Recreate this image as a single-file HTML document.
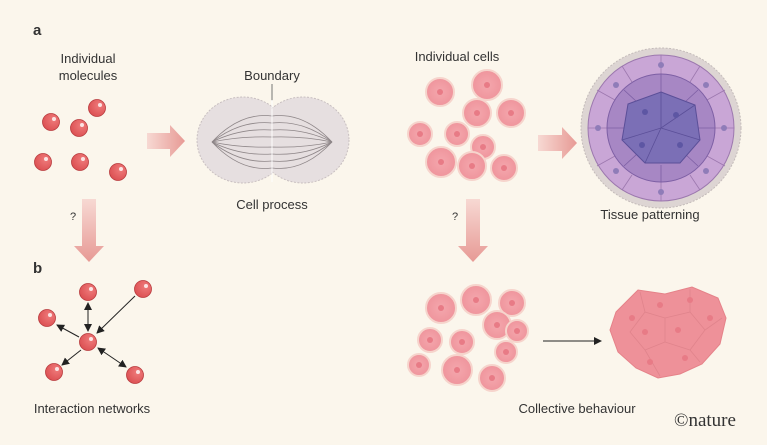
<!DOCTYPE html>
<html><head><meta charset="utf-8"><style>
html,body{margin:0;padding:0;background:#fbf6ec;}
svg{display:block;}
text{font-family:"Liberation Sans",sans-serif;fill:#333;}
</style></head><body>
<svg width="767" height="445" viewBox="0 0 767 445" xmlns="http://www.w3.org/2000/svg">
<defs>
<radialGradient id="mol" cx="0.65" cy="0.35" r="0.8"><stop offset="0" stop-color="#ef7b7b"/><stop offset="1" stop-color="#d94a4d"/></radialGradient>
<radialGradient id="cell" cx="0.5" cy="0.5" r="0.6"><stop offset="0" stop-color="#f4a7ad"/><stop offset="1" stop-color="#ee9199"/></radialGradient>
<linearGradient id="arH" x1="0" x2="1"><stop offset="0" stop-color="#f7d9d3"/><stop offset="1" stop-color="#e79a95"/></linearGradient>
<linearGradient id="arV" x1="0" x2="0" y1="0" y2="1"><stop offset="0" stop-color="#f7d9d3"/><stop offset="1" stop-color="#e79a95"/></linearGradient>
<marker id="ah" markerWidth="8" markerHeight="8" refX="7" refY="4" orient="auto" markerUnits="userSpaceOnUse"><path d="M0,0 L8,4 L0,8 Z" fill="#222"/></marker>
<marker id="ahs" markerWidth="8" markerHeight="8" refX="1" refY="4" orient="auto" markerUnits="userSpaceOnUse"><path d="M8,0 L0,4 L8,8 Z" fill="#222"/></marker>
</defs>
<text x="33" y="35" font-weight="bold" font-size="15" fill="#222">a</text>
<text x="88" y="63" font-size="13" text-anchor="middle">Individual</text>
<text x="88" y="80" font-size="13" text-anchor="middle">molecules</text>
<g fill="url(#mol)" stroke="#b83a3d" stroke-width="0.8">
<circle cx="97" cy="108" r="8.5"/><circle cx="51" cy="122" r="8.5"/><circle cx="79" cy="128" r="8.5"/>
<circle cx="43" cy="162" r="8.5"/><circle cx="80" cy="162" r="8.5"/><circle cx="118" cy="172" r="8.5"/>
</g>
<g fill="#fff" opacity="0.8"><circle cx="100" cy="105" r="2"/><circle cx="54" cy="119" r="2"/><circle cx="82" cy="125" r="2"/><circle cx="46" cy="159" r="2"/><circle cx="83" cy="159" r="2"/><circle cx="121" cy="169" r="2"/></g>
<path d="M147,133 L170,133 L170,125 L185,141 L170,157 L170,149 L147,149 Z" fill="url(#arH)"/>
<text x="272" y="80" font-size="13" text-anchor="middle">Boundary</text>
<line x1="272" y1="84" x2="272" y2="101" stroke="#555" stroke-width="0.8"/>
<g fill="#e6dfe0" stroke="#c8bfc0" stroke-dasharray="2,1.5">
<ellipse cx="243" cy="140" rx="46" ry="43"/><ellipse cx="303" cy="140" rx="46" ry="43"/>
</g>
<ellipse cx="243" cy="140" rx="44" ry="41" fill="#e6dfe0"/><ellipse cx="303" cy="140" rx="44" ry="41" fill="#e6dfe0"/>
<g fill="none" stroke="#8e8688" stroke-width="0.8">
<path d="M212,142 Q240,112 272,116 Q304,112 332,142"/><path d="M212,142 Q240,120 272,123 Q304,120 332,142"/>
<path d="M212,142 Q240,128 272,130 Q304,128 332,142"/><path d="M212,142 Q240,136 272,137 Q304,136 332,142"/>
<path d="M212,142 Q240,148 272,147 Q304,148 332,142"/><path d="M212,142 Q240,156 272,154 Q304,156 332,142"/>
<path d="M212,142 Q240,164 272,161 Q304,164 332,142"/><path d="M212,142 Q240,172 272,168 Q304,172 332,142"/>
</g>
<line x1="272" y1="100" x2="272" y2="182" stroke="#fff" stroke-width="1.2" opacity="0.8"/>
<text x="272" y="209" font-size="13" text-anchor="middle">Cell process</text>
<path d="M82,199 L96,199 L96,246 L104,246 L89,262 L74,246 L82,246 Z" fill="url(#arV)"/>
<text x="70" y="220" font-size="11">?</text>
<text x="33" y="273" font-weight="bold" font-size="15" fill="#222">b</text>
<g stroke="#222" stroke-width="1" fill="none">
<line x1="88" y1="303" x2="88" y2="331" marker-start="url(#ahs)" marker-end="url(#ah)"/>
<line x1="135" y1="296" x2="97" y2="333" marker-end="url(#ah)"/>
<line x1="79" y1="337" x2="57" y2="325" marker-end="url(#ah)"/>
<line x1="81" y1="350" x2="62" y2="365" marker-end="url(#ah)"/>
<line x1="98" y1="348" x2="126" y2="367" marker-start="url(#ahs)" marker-end="url(#ah)"/>
</g>
<g fill="url(#mol)" stroke="#b83a3d" stroke-width="0.8">
<circle cx="88" cy="292" r="8.5"/><circle cx="143" cy="289" r="8.5"/><circle cx="47" cy="318" r="8.5"/>
<circle cx="88" cy="342" r="8.5"/><circle cx="54" cy="372" r="8.5"/><circle cx="135" cy="375" r="8.5"/>
</g>
<g fill="#fff" opacity="0.8"><circle cx="91" cy="289" r="2"/><circle cx="146" cy="286" r="2"/><circle cx="50" cy="315" r="2"/><circle cx="91" cy="339" r="2"/><circle cx="57" cy="369" r="2"/><circle cx="138" cy="372" r="2"/></g>
<text x="92" y="413" font-size="13" text-anchor="middle">Interaction networks</text>
<text x="457" y="61" font-size="13" text-anchor="middle">Individual cells</text>
<g fill="url(#cell)" stroke="#f6d4cc" stroke-width="2">
<circle cx="440" cy="92" r="14"/><circle cx="487" cy="85" r="15"/><circle cx="477" cy="113" r="14"/><circle cx="511" cy="113" r="14"/>
<circle cx="420" cy="134" r="12"/><circle cx="457" cy="134" r="12"/><circle cx="483" cy="147" r="12"/>
<circle cx="441" cy="162" r="15"/><circle cx="472" cy="166" r="14"/><circle cx="504" cy="168" r="13"/>
</g>
<g fill="#e87b86"><circle cx="440" cy="92" r="3"/><circle cx="487" cy="85" r="3"/><circle cx="477" cy="113" r="3"/><circle cx="511" cy="113" r="3"/><circle cx="420" cy="134" r="3"/><circle cx="457" cy="134" r="3"/><circle cx="483" cy="147" r="3"/><circle cx="441" cy="162" r="3"/><circle cx="472" cy="166" r="3"/><circle cx="504" cy="168" r="3"/></g>
<path d="M538,135 L562,135 L562,127 L577,143 L562,159 L562,151 L538,151 Z" fill="url(#arH)"/>
<circle cx="661" cy="128" r="80" fill="#ddd5d3" stroke="#c4bcba" stroke-dasharray="2,1.5"/>
<circle cx="661" cy="128" r="73" fill="#c9a6d6" stroke="#9c78ae"/>
<g stroke="#9c78ae" stroke-width="0.8" fill="none">
<path d="M661,55 L661,75 M700,66 L690,82 M725,90 L707,100 M734,128 L715,128 M725,166 L707,156 M700,190 L690,175 M661,201 L661,182 M622,190 L632,175 M597,166 L615,156 M588,128 L607,128 M597,90 L615,100 M622,66 L632,82"/>
</g>
<circle cx="661" cy="128" r="54" fill="#a787c4" stroke="#7d5fa4"/>
<g stroke="#7d5fa4" stroke-width="0.8" fill="none"><path d="M661,74 L661,92 M698,90 L685,102 M715,128 L698,128 M698,166 L685,154 M661,182 L661,165 M624,166 L637,154 M607,128 L624,128 M624,90 L637,102"/></g>
<path d="M661,92 L695,105 L700,140 L680,163 L645,163 L622,140 L628,104 Z" fill="#7b6fb6" stroke="#5b4f98"/>
<g stroke="#5b4f98" stroke-width="0.8" fill="none"><path d="M661,92 L661,128 L695,105 M661,128 L700,140 M661,128 L645,163 M661,128 L622,140"/></g>
<g fill="#5d56a3"><circle cx="676" cy="115" r="3"/><circle cx="645" cy="112" r="3"/><circle cx="680" cy="145" r="3"/><circle cx="642" cy="145" r="3"/></g>
<g fill="#8f7cb8"><circle cx="661" cy="65" r="3"/><circle cx="706" cy="85" r="3"/><circle cx="724" cy="128" r="3"/><circle cx="706" cy="171" r="3"/><circle cx="661" cy="192" r="3"/><circle cx="616" cy="171" r="3"/><circle cx="598" cy="128" r="3"/><circle cx="616" cy="85" r="3"/></g>
<text x="650" y="219" font-size="13" text-anchor="middle">Tissue patterning</text>
<path d="M466,199 L480,199 L480,246 L488,246 L473,262 L458,246 L466,246 Z" fill="url(#arV)"/>
<text x="452" y="220" font-size="11">?</text>
<g fill="url(#cell)" stroke="#f6d4cc" stroke-width="2">
<circle cx="441" cy="308" r="15"/><circle cx="476" cy="300" r="15"/><circle cx="512" cy="303" r="13"/><circle cx="497" cy="325" r="14"/>
<circle cx="517" cy="331" r="11"/><circle cx="430" cy="340" r="12"/><circle cx="462" cy="342" r="12"/><circle cx="506" cy="352" r="11"/>
<circle cx="419" cy="365" r="11"/><circle cx="457" cy="370" r="15"/><circle cx="492" cy="378" r="13"/>
</g>
<g fill="#e87b86"><circle cx="441" cy="308" r="3"/><circle cx="476" cy="300" r="3"/><circle cx="512" cy="303" r="3"/><circle cx="497" cy="325" r="3"/><circle cx="517" cy="331" r="3"/><circle cx="430" cy="340" r="3"/><circle cx="462" cy="342" r="3"/><circle cx="506" cy="352" r="3"/><circle cx="419" cy="365" r="3"/><circle cx="457" cy="370" r="3"/><circle cx="492" cy="378" r="3"/></g>
<line x1="543" y1="341" x2="601" y2="341" stroke="#222" stroke-width="1.1" marker-end="url(#ah)"/>
<path d="M616,312 L638,290 L665,294 L692,287 L718,298 L726,318 L720,344 L702,364 L680,374 L658,378 L636,368 L618,352 L610,330 Z" fill="#ee9199" stroke="#e58289"/>
<g stroke="#e0848c" stroke-width="0.8" fill="none"><path d="M640,292 L645,312 L665,318 L690,312 L690,289 M645,312 L630,332 L645,350 L665,342 L665,318 M690,312 L705,330 L690,350 L665,342 M645,350 L660,376 M690,350 L700,362 M705,330 L722,318"/></g>
<g fill="#e87b86"><circle cx="632" cy="318" r="3"/><circle cx="660" cy="305" r="3"/><circle cx="690" cy="300" r="3"/><circle cx="710" cy="318" r="3"/><circle cx="645" cy="332" r="3"/><circle cx="678" cy="330" r="3"/><circle cx="650" cy="362" r="3"/><circle cx="685" cy="358" r="3"/></g>
<text x="577" y="413" font-size="13" text-anchor="middle">Collective behaviour</text>
<text x="705" y="426" font-size="19" text-anchor="middle" style="font-family:'Liberation Serif',serif" fill="#777">©nature</text>
</svg>
</body></html>
